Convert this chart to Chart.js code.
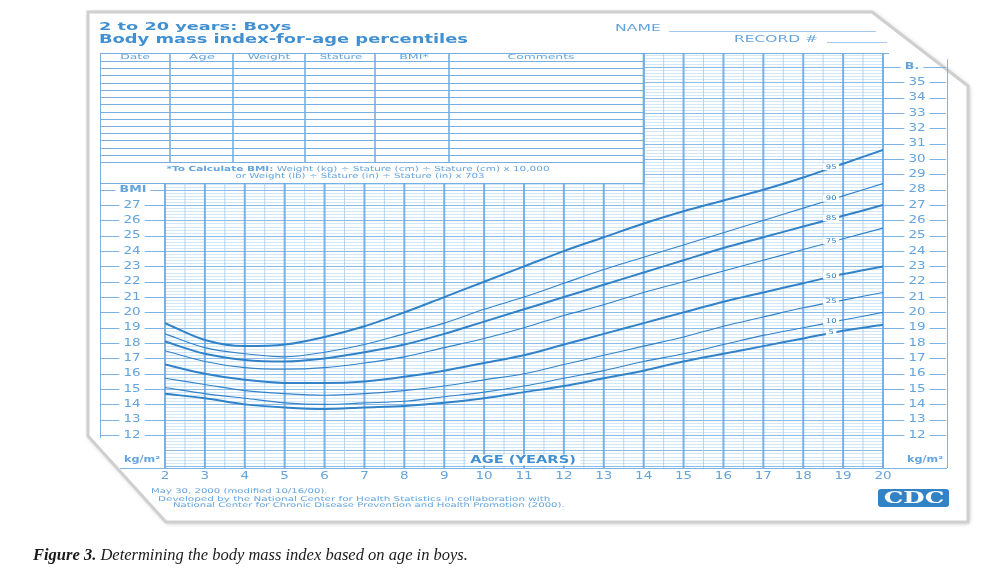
<!DOCTYPE html>
<html>
<head>
<meta charset="utf-8">
<script src="https://cdn.jsdelivr.net/npm/chart.js@4.4.1/dist/chart.umd.min.js"></script>
<style>
  html, body { margin: 0; padding: 0; background: #fff; }
  #wrap { position: relative; width: 1001px; height: 568px; overflow: hidden; }
  #chart { position: absolute; left: 0; top: 0; }
  .t { position: absolute; white-space: nowrap; line-height: 1; font-family: "DejaVu Sans", sans-serif; color: #64a4dd; }
  .l { transform-origin: left center; }
  .c { transform-origin: center center; }
  .hr { position: absolute; height: 0; border-top: 1px solid #a6c9ec; }
</style>
</head>
<body>
<div id="wrap">
  <canvas id="chart" width="1001" height="568"></canvas>

  <!-- header -->
  <div class="t l" data-w="192" style="left:99px;top:21px;font-size:11px;font-weight:bold;color:#4190d2">2 to 20 years: Boys</div>
  <div class="t l" data-w="369" style="left:99px;top:32px;font-size:13px;font-weight:bold;color:#4190d2">Body mass index-for-age percentiles</div>
  <div class="t l" data-w="45" style="left:615px;top:25px;font-size:8px">NAME</div>
  <div class="hr" style="left:669px;top:31px;width:207px"></div>
  <div class="t l" data-w="83" style="left:734px;top:36px;font-size:8px">RECORD #</div>
  <div class="hr" style="left:827px;top:42px;width:60px"></div>

  <!-- table header -->
  <div class="t c" data-w="30" data-cx="135" style="top:54px;font-size:7px">Date</div>
  <div class="t c" data-w="27" data-cx="202" style="top:54px;font-size:7px">Age</div>
  <div class="t c" data-w="42" data-cx="269" style="top:54px;font-size:7px">Weight</div>
  <div class="t c" data-w="43" data-cx="341" style="top:54px;font-size:7px">Stature</div>
  <div class="t c" data-w="29" data-cx="414" style="top:54px;font-size:7px">BMI*</div>
  <div class="t c" data-w="67" data-cx="541" style="top:54px;font-size:7px">Comments</div>

  <!-- formula -->
  <div class="t c" data-w="383" data-cx="358" style="top:166px;font-size:7px"><b>*To Calculate BMI:</b> Weight (kg) ÷ Stature (cm) ÷ Stature (cm) x 10,000</div>
  <div class="t c" data-w="249" data-cx="360" style="top:173px;font-size:7px">or Weight (lb) ÷ Stature (in) ÷ Stature (in) x 703</div>

  <!-- footer -->
  <div class="t l" data-w="176" style="left:151px;top:488px;font-size:6.5px">May 30, 2000 (modified 10/16/00).</div>
  <div class="t l" data-w="392" style="left:158px;top:496px;font-size:6.5px">Developed by the National Center for Health Statistics in collaboration with</div>
  <div class="t l" data-w="392" style="left:173px;top:502px;font-size:6.5px">National Center for Chronic Disease Prevention and Health Promotion (2000).</div>

  <div style="position:absolute;left:878px;top:489px;width:71px;height:18px;background:#3282c6;border-radius:3px;overflow:hidden">
    <div class="t c" data-w="60" data-cx="35.5" style="top:1px;font-size:16px;font-weight:bold;color:#fff;font-family:'DejaVu Serif',serif">CDC</div>
  </div>

  <!-- caption -->
  <div style="position:absolute;left:33px;top:545px;font-family:'Liberation Serif',serif;font-style:italic;font-size:16.5px;color:#1a1a1a;white-space:nowrap"><b>Figure 3.</b> Determining the body mass index based on age in boys.</div>
</div>

<script>
// ages and percentile curves
const ages = [2, 3, 4, 5, 6, 7, 8, 9, 10, 11, 12, 13, 14, 15, 16, 17, 18, 19, 20];
const p5  = [14.7, 14.4, 14.0, 13.8, 13.7, 13.8, 13.9, 14.1, 14.4, 14.8, 15.2, 15.7, 16.2, 16.8, 17.3, 17.8, 18.3, 18.8, 19.2];
const p10 = [15.1, 14.7, 14.4, 14.1, 14.0, 14.1, 14.2, 14.5, 14.8, 15.2, 15.7, 16.2, 16.8, 17.3, 17.9, 18.5, 19.0, 19.5, 20.0];
const p25 = [15.7, 15.3, 14.9, 14.7, 14.6, 14.7, 14.9, 15.2, 15.6, 16.0, 16.6, 17.2, 17.8, 18.4, 19.1, 19.7, 20.3, 20.8, 21.3];
const p50 = [16.6, 16.0, 15.6, 15.4, 15.4, 15.5, 15.8, 16.2, 16.7, 17.2, 17.9, 18.6, 19.3, 20.0, 20.7, 21.3, 21.9, 22.5, 23.0];
const p75 = [17.5, 16.8, 16.4, 16.3, 16.4, 16.7, 17.1, 17.7, 18.3, 19.0, 19.8, 20.5, 21.3, 22.0, 22.7, 23.4, 24.1, 24.8, 25.5];
const p85 = [18.1, 17.3, 16.9, 16.8, 17.0, 17.4, 17.9, 18.6, 19.4, 20.2, 21.0, 21.8, 22.6, 23.4, 24.2, 24.9, 25.6, 26.3, 27.0];
const p90 = [18.6, 17.7, 17.3, 17.1, 17.4, 17.9, 18.6, 19.3, 20.2, 21.0, 21.9, 22.8, 23.6, 24.4, 25.2, 26.0, 26.8, 27.6, 28.4];
const p95 = [19.3, 18.2, 17.8, 17.9, 18.4, 19.1, 20.0, 21.0, 22.0, 23.0, 24.0, 24.9, 25.8, 26.6, 27.3, 28.0, 28.8, 29.7, 30.6];

const pctNames = ['95', '90', '85', '75', '50', '25', '10', '5'];
const pctSeries = [p95, p90, p85, p75, p50, p25, p10, p5];
const heavy = ['95', '85', '50', '5'];

const ageTicks = ages;
const leftTicks = [12, 13, 14, 15, 16, 17, 18, 19, 20, 21, 22, 23, 24, 25, 26, 27];
const rightTicks = [12, 13, 14, 15, 16, 17, 18, 19, 20, 21, 22, 23, 24, 25, 26, 27, 28, 29, 30, 31, 32, 33, 34, 35];
const labelAge = 18.7;

const BLUE = '#3282c8';
const PALE = '#64a4dd';

// stretch html text to the widths seen on the sheet
document.querySelectorAll('[data-w]').forEach(el => {
    const w = el.offsetWidth;
    const s = (+el.dataset.w) / w;
    if (el.dataset.cx) {
        el.style.left = el.dataset.cx + 'px';
        el.style.transform = 'translateX(-50%) scaleX(' + s + ')';
    } else {
        el.style.transform = 'scaleX(' + s + ')';
    }
});

function wideText(ctx, txt, x, y, size, o) {
    o = o || {};
    ctx.save();
    ctx.font = (o.bold ? 'bold ' : '') + size + 'px "DejaVu Sans"';
    ctx.translate(x, y);
    ctx.scale(o.sx || 1.35, 1);
    ctx.textAlign = o.align || 'center';
    ctx.textBaseline = 'middle';
    const w = ctx.measureText(txt).width;
    if (o.bg) {
        const x0 = ctx.textAlign === 'center' ? -w / 2 : (ctx.textAlign === 'right' ? -w : 0);
        ctx.fillStyle = '#fff';
        ctx.fillRect(x0 - (o.pad || 2), -size * 0.5, w + 2 * (o.pad || 2), size);
    }
    ctx.fillStyle = o.color || PALE;
    ctx.fillText(txt, 0, 0);
    ctx.restore();
}

const sheetPlugin = {
    id: 'sheet',
    beforeDraw(chart) {
        const ctx = chart.ctx;
        ctx.save();
        ctx.fillStyle = '#fff';
        ctx.fillRect(0, 0, chart.width, chart.height);
        // paper with curled corners
        ctx.beginPath();
        ctx.moveTo(88, 12);
        ctx.lineTo(872, 12);
        ctx.lineTo(968, 86);
        ctx.lineTo(968, 522);
        ctx.lineTo(166, 522);
        ctx.lineTo(88, 436);
        ctx.closePath();
        ctx.shadowColor = 'rgba(0,0,0,0.3)';
        ctx.shadowBlur = 5;
        ctx.shadowOffsetX = 1;
        ctx.shadowOffsetY = 1;
        ctx.fill();
        ctx.shadowColor = 'transparent';
        ctx.strokeStyle = '#cfcfcf';
        ctx.lineWidth = 3;
        ctx.stroke();
        ctx.restore();

        // record table
        ctx.save();
        ctx.strokeStyle = '#78afe2';
        ctx.lineWidth = 1;
        const tl = 100, tr = chart.scales.x.getPixelForValue(14), tt = 53, tb = 162, fb = 183;
        ctx.strokeRect(tl + 0.5, tt + 0.5, tr - tl, fb - tt);
        ctx.beginPath();
        ctx.moveTo(tl, 61.5); ctx.lineTo(tr, 61.5);
        for (let i = 1; i <= 14; i++) {
            const yy = Math.round(61 + i * (tb - 61) / 14) + 0.5;
            ctx.moveTo(tl, yy); ctx.lineTo(tr, yy);
        }
        ctx.stroke();
        ctx.lineWidth = 1.6;
        ctx.beginPath();
        [170, 233, 305, 375, 449].forEach(cx => { ctx.moveTo(cx, tt); ctx.lineTo(cx, tb); });
        ctx.stroke();
        ctx.restore();
    },
    beforeDatasetsDraw(chart) {
        const ctx = chart.ctx, xs = chart.scales.x, ys = chart.scales.y, ca = chart.chartArea;
        const xL = ca.left, xR = ca.right, xSplit = xs.getPixelForValue(14), leftTop = 183;
        ctx.save();
        // horizontal lines, every 0.2 BMI
        for (let i = Math.ceil(ys.min * 5); i <= Math.floor(ys.max * 5); i++) {
            const py = Math.round(ys.getPixelForValue(i / 5)) + 0.5;
            const major = i % 5 === 0;
            ctx.strokeStyle = major ? 'rgba(110,170,225,0.8)' : 'rgba(160,202,240,0.45)';
            ctx.lineWidth = 1;
            ctx.beginPath();
            ctx.moveTo(py >= leftTop ? xL : xSplit, py);
            ctx.lineTo(xR, py);
            ctx.stroke();
        }
        // vertical lines, every half year
        for (let a = 4; a <= 40; a++) {
            const age = a / 2;
            const px = xs.getPixelForValue(age);
            const yearLine = a % 2 === 0;
            ctx.strokeStyle = yearLine ? 'rgba(100,165,225,0.85)' : 'rgba(150,198,240,0.7)';
            ctx.lineWidth = yearLine ? 2 : 1;
            ctx.beginPath();
            ctx.moveTo(px, age >= 14 ? ca.top : leftTop);
            ctx.lineTo(px, ca.bottom);
            ctx.stroke();
        }
        // outer frame
        ctx.strokeStyle = 'rgba(110,170,225,0.9)';
        ctx.lineWidth = 1;
        ctx.beginPath();
        ctx.moveTo(xSplit, ca.top + 0.5); ctx.lineTo(xR + 6, ca.top + 0.5);
        ctx.moveTo(100.5, 183); ctx.lineTo(100.5, ys.getPixelForValue(11.8));
        ctx.moveTo(947.5, ys.getPixelForValue(36.5)); ctx.lineTo(947.5, ca.bottom);
        ctx.moveTo(120, ca.bottom + 0.5); ctx.lineTo(947, ca.bottom + 0.5);
        ctx.stroke();
        // tick lines outside the grid
        ctx.beginPath();
        leftTicks.concat([28]).forEach(v => {
            const py = Math.round(ys.getPixelForValue(v)) + 0.5;
            ctx.moveTo(100, py); ctx.lineTo(xL, py);
        });
        rightTicks.concat([36]).forEach(v => {
            const py = Math.round(ys.getPixelForValue(v)) + 0.5;
            ctx.moveTo(xR, py); ctx.lineTo(946, py);
        });
        ctx.stroke();
        ctx.restore();
    },
    afterDatasetsDraw(chart) {
        const ctx = chart.ctx, xs = chart.scales.x, ys = chart.scales.y, ca = chart.chartArea;
        // percentile labels on the curves
        const i0 = ages.findIndex(a => a > labelAge) - 1;
        const f = (labelAge - ages[i0]) / (ages[i0 + 1] - ages[i0]);
        pctSeries.forEach((s, k) => {
            const v = s[i0] + f * (s[i0 + 1] - s[i0]);
            wideText(ctx, pctNames[k], xs.getPixelForValue(labelAge), ys.getPixelForValue(v) - 1, 6.5,
                { bg: true, color: BLUE, sx: 1.3, pad: 2 });
        });
        // axis labels
        leftTicks.forEach(v => wideText(ctx, String(v), 132, ys.getPixelForValue(v), 10, { bg: true, pad: 3 }));
        wideText(ctx, 'BMI', 133, ys.getPixelForValue(28), 9, { bg: true, bold: true, pad: 3, sx: 1.4 });
        rightTicks.forEach(v => wideText(ctx, String(v), 917, ys.getPixelForValue(v), 10, { bg: true, pad: 3 }));
        wideText(ctx, 'B.', 912, ys.getPixelForValue(36), 9, { bg: true, bold: true, pad: 3, sx: 1.4 });
        ageTicks.forEach(a => wideText(ctx, String(a), xs.getPixelForValue(a), ca.bottom + 8, 10, {}));
        wideText(ctx, 'AGE (YEARS)', xs.getPixelForValue(10.0) + 39, ca.bottom - 8, 11, { bg: true, bold: true, color: '#4190d2', sx: 1.33, pad: 3 });
        wideText(ctx, 'kg/m²', 925, ca.bottom - 8, 8, { bold: true, sx: 1.4 });
        wideText(ctx, 'kg/m²', 142, ca.bottom - 8, 8, { bold: true, sx: 1.4 });
    }
};

new Chart(document.getElementById('chart'), {
    type: 'line',
    data: {
        datasets: pctSeries.map((s, k) => ({
            label: pctNames[k],
            data: ages.map((a, i) => ({ x: a, y: s[i] })),
            borderColor: BLUE,
            borderWidth: heavy.includes(pctNames[k]) ? 2 : 1.1,
            pointRadius: 0,
            cubicInterpolationMode: 'monotone',
            fill: false
        }))
    },
    options: {
        responsive: false,
        animation: false,
        devicePixelRatio: 1,
        layout: { padding: { left: 165, right: 118, top: 53, bottom: 100 } },
        scales: {
            x: { type: 'linear', min: 2, max: 20, display: false },
            y: { type: 'linear', min: 9.85, max: 36.92, display: false }
        },
        plugins: {
            legend: { display: false },
            tooltip: { enabled: false }
        }
    },
    plugins: [sheetPlugin]
});
</script>
</body>
</html>
